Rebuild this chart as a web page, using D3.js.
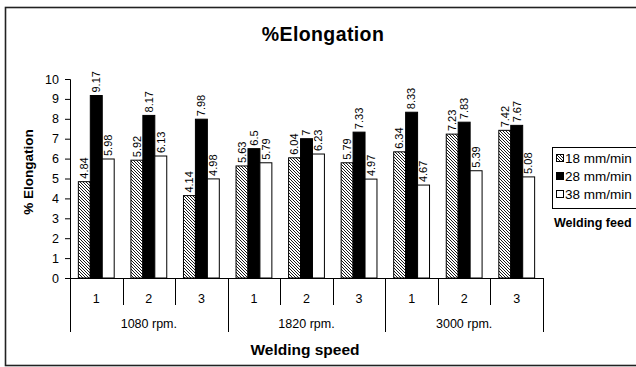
<!DOCTYPE html>
<html>
<head>
<meta charset="utf-8">
<style>
  body { margin: 0; background: #fff; }
  text { font-family: "Liberation Sans", Arial, sans-serif; }
</style>
</head>
<body>
<svg id="chart" width="636" height="367"></svg>
<script src="https://cdn.jsdelivr.net/npm/d3@7"></script>
<script>
  // data
  let speeds = ["1080 rpm.", "1820 rpm.", "3000 rpm."]
  let subs = ["1", "2", "3"]
  let feeds = ["18 mm/min", "28 mm/min", "38 mm/min"]
  let feed18 = [4.84, 5.92, 4.14, 5.63, 6.04, 5.79, 6.34, 7.23, 7.42]
  let feed28 = [9.17, 8.17, 7.98, 6.5, 7, 7.33, 8.33, 7.83, 7.67]
  let feed38 = [5.98, 6.13, 4.98, 5.79, 6.23, 4.97, 4.67, 5.39, 5.08]
  let labels18 = ["4.84", "5.92", "4.14", "5.63", "6.04", "5.79", "6.34", "7.23", "7.42"]
  let labels28 = ["9.17", "8.17", "7.98", "6.5", "7", "7.33", "8.33", "7.83", "7.67"]
  let labels38 = ["5.98", "6.13", "4.98", "5.79", "6.23", "4.97", "4.67", "5.39", "5.08"]
  let yTicks = [0, 1, 2, 3, 4, 5, 6, 7, 8, 9, 10]

  let svg = d3.select("#chart")

  let defs = svg.append("defs")
  let pat = defs.append("pattern")
    .attr("id", "hatch")
    .attr("patternUnits", "userSpaceOnUse")
    .attr("width", 3).attr("height", 3)
  pat.append("rect").attr("width", 3).attr("height", 3).attr("fill", "#fff")
  pat.append("path")
    .attr("d", "M-1,-1 L4,4 M-1,2 L1,4 M2,-1 L4,1")
    .attr("stroke", "#000").attr("stroke-width", 0.9)

  // outer frame
  svg.append("rect")
    .attr("x", 5.5).attr("y", 7.5)
    .attr("width", 700).attr("height", 358)
    .attr("fill", "none").attr("stroke", "#222").attr("stroke-width", 1.6)

  let plotL = 70, plotR = 543, plotT = 79, plotB = 278

  let cats = []
  speeds.forEach(s => subs.forEach(n => cats.push(s + "|" + n)))

  let x = d3.scaleBand().domain(cats).range([plotL, plotR])
  let xi = d3.scaleBand().domain(feeds).range([0, x.bandwidth()]).paddingOuter(0.7).paddingInner(0)
  let y = d3.scaleLinear().domain([0, 10]).range([plotB, plotT])

  let series = [
    { name: feeds[0], values: feed18, labels: labels18, fill: "url(#hatch)" },
    { name: feeds[1], values: feed28, labels: labels28, fill: "#000" },
    { name: feeds[2], values: feed38, labels: labels38, fill: "#fff" }
  ]

  // y axis
  let yAxis = svg.append("g")
    .attr("transform", "translate(" + plotL + ",0)")
    .call(d3.axisLeft(y).tickValues(yTicks).tickSize(5).tickPadding(6))
  yAxis.selectAll("path, line").attr("stroke", "#000")
  yAxis.selectAll("text").attr("font-size", 12.5).attr("fill", "#000")
    .style("font-family", "Liberation Sans, Arial, sans-serif")

  // bars
  series.forEach(s => {
    let g = svg.append("g")
    g.selectAll("rect")
      .data(s.values)
      .join("rect")
      .attr("x", (d, i) => x(cats[i]) + xi(s.name))
      .attr("y", d => y(d))
      .attr("width", xi.bandwidth())
      .attr("height", d => plotB - y(d))
      .attr("fill", s.fill)
      .attr("stroke", "#000")
      .attr("stroke-width", 1)
    g.selectAll("text")
      .data(s.values)
      .join("text")
      .attr("transform", (d, i) => {
        let cx = x(cats[i]) + xi(s.name) + xi.bandwidth() / 2 + 3.8
        return "translate(" + cx + "," + (y(d) - 3) + ") rotate(-90)"
      })
      .attr("font-size", 11)
      .text((d, i) => s.labels[i])
  })

  // x axis line and separators
  svg.append("line")
    .attr("x1", plotL).attr("x2", plotR)
    .attr("y1", plotB + 0.5).attr("y2", plotB + 0.5)
    .attr("stroke", "#000")
  cats.forEach((c, i) => {
    let xx = Math.round(x(c)) + 0.5
    svg.append("line")
      .attr("x1", xx).attr("x2", xx)
      .attr("y1", plotB).attr("y2", i % 3 == 0 ? 332 : 305)
      .attr("stroke", "#000")
    svg.append("text")
      .attr("x", x(c) + x.bandwidth() / 2)
      .attr("y", 303)
      .attr("text-anchor", "middle")
      .attr("font-size", 12.5)
      .text(c.split("|")[1])
  })
  svg.append("line")
    .attr("x1", plotR + 0.5).attr("x2", plotR + 0.5)
    .attr("y1", plotB).attr("y2", 332)
    .attr("stroke", "#000")
  speeds.forEach((s, i) => {
    let x0 = x(cats[i * 3]), x1 = x(cats[i * 3 + 2]) + x.bandwidth()
    svg.append("text")
      .attr("x", (x0 + x1) / 2)
      .attr("y", 328)
      .attr("text-anchor", "middle")
      .attr("font-size", 12.5)
      .text(s)
  })

  // titles
  svg.append("text")
    .attr("x", 323).attr("y", 41)
    .attr("text-anchor", "middle")
    .attr("font-size", 19.5).attr("font-weight", "bold")
    .attr("letter-spacing", 0.4)
    .text("%Elongation")
  svg.append("text")
    .attr("x", 305).attr("y", 355)
    .attr("text-anchor", "middle")
    .attr("font-size", 15.5).attr("font-weight", "bold")
    .text("Welding speed")
  svg.append("text")
    .attr("transform", "translate(33,172) rotate(-90)")
    .attr("text-anchor", "middle")
    .attr("font-size", 13.5).attr("font-weight", "bold")
    .text("% Elongation")

  // legend
  let lg = svg.append("g")
  lg.append("rect")
    .attr("x", 552.5).attr("y", 147.5)
    .attr("width", 100).attr("height", 61)
    .attr("fill", "#fff").attr("stroke", "#000")
  series.forEach((s, i) => {
    let yy = 158 + i * 18
    lg.append("rect")
      .attr("x", 556.5).attr("y", yy - 3.5)
      .attr("width", 7).attr("height", 7)
      .attr("fill", s.fill).attr("stroke", "#000")
    lg.append("text")
      .attr("x", 565).attr("y", yy + 5)
      .attr("font-size", 13.5)
      .text(s.name)
  })
  svg.append("text")
    .attr("x", 554).attr("y", 227)
    .attr("font-size", 12.5).attr("font-weight", "bold")
    .text("Welding feed")
</script>
</body>
</html>
